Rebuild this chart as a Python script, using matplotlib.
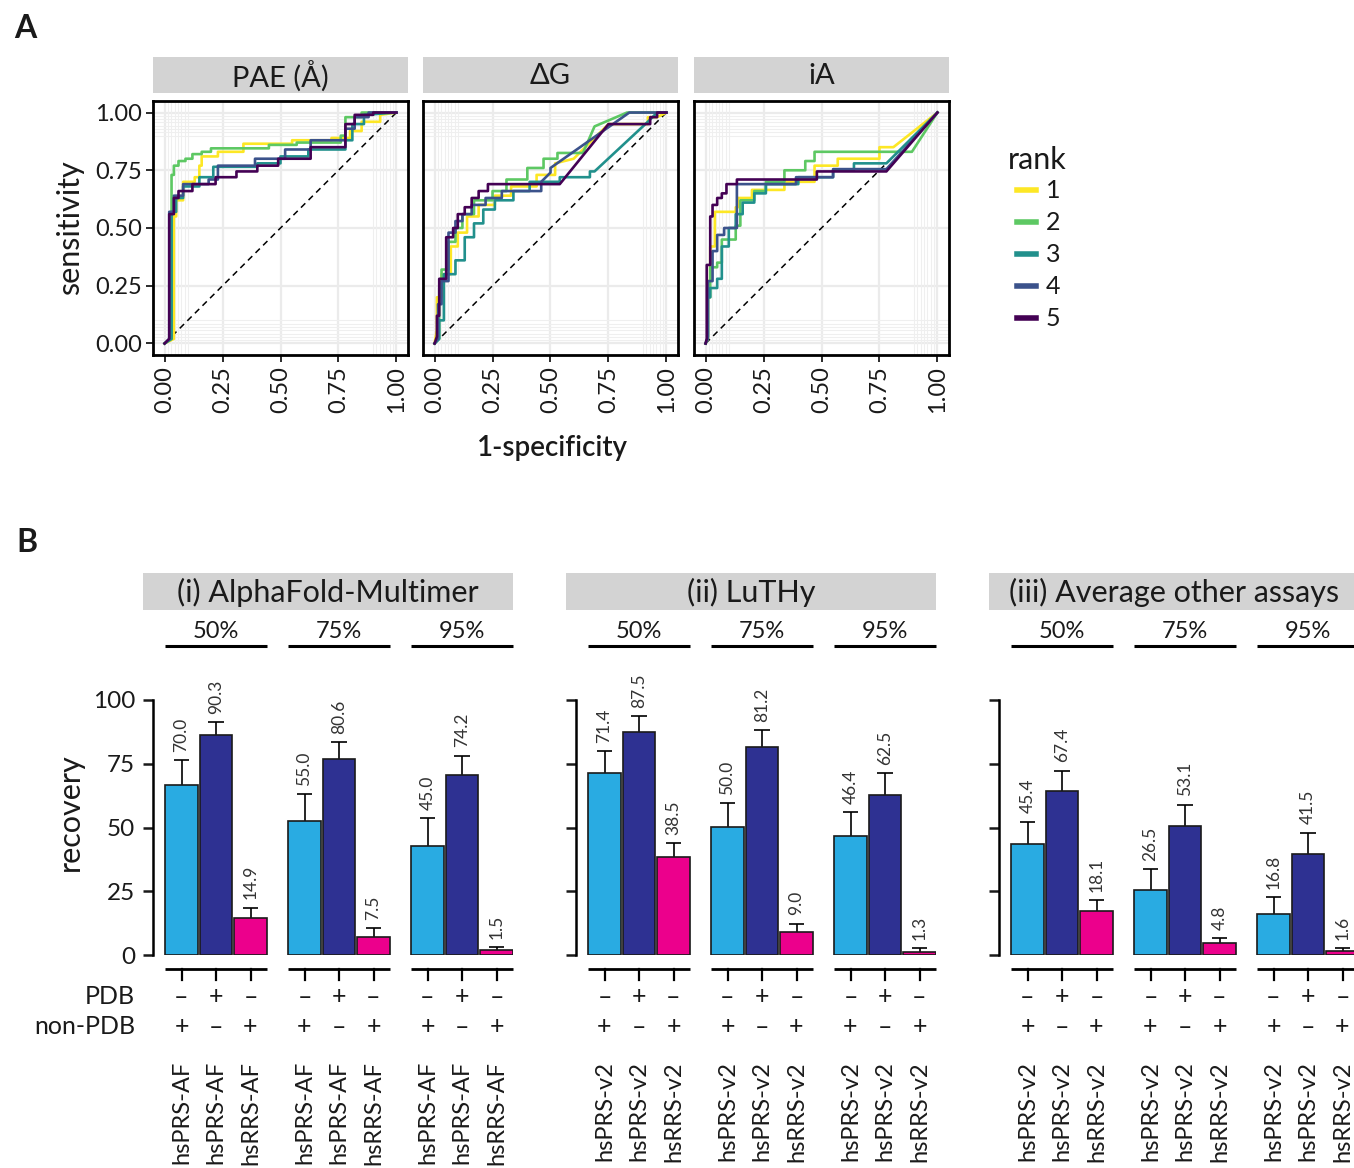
import matplotlib
matplotlib.use('Agg')
import matplotlib.pyplot as plt
from matplotlib.patches import Rectangle
from matplotlib.lines import Line2D

plt.rcParams['font.family'] = ['Lato', 'DejaVu Sans']
plt.rcParams['text.color'] = '#1a1a1a'

# ---------------- data: panel A (ROC curves, vertices) ----------------
RANKS = ['1', '2', '3', '4', '5']
RANK_COLORS = ['#FDE725', '#5DC863', '#21908C', '#3B528B', '#440154']
A_TITLES = ['PAE (Å)', 'ΔG', 'iA']

PAE_FPR = [
    [0, .04, .04, .05, .05, .08, .08, .13, .13, .15, .15, .16, .16, .23, .23, .34, .34, .55, .55, .72, .72, .80, .80, .85, .85, .93, .93, 1],
    [0, .03, .03, .04, .04, .06, .06, .09, .09, .12, .12, .16, .16, .20, .20, .45, .45, .57, .57, .76, .76, .78, .78, .85, .85, 1],
    [0, .03, .03, .05, .05, .08, .08, .15, .15, .21, .21, .40, .40, .50, .50, .62, .62, .78, .78, .81, .81, .86, .86, 1],
    [0, .02, .02, .04, .04, .08, .08, .19, .19, .23, .23, .39, .39, .52, .52, .63, .63, .78, .78, .82, .82, .88, .88, 1],
    [0, .02, .02, .04, .04, .06, .06, .12, .12, .22, .22, .31, .31, .40, .40, .49, .49, .63, .63, .78, .78, .82, .82, .90, .90, 1],
]
PAE_TPR = [
    [0, .02, .55, .55, .62, .62, .70, .70, .72, .72, .77, .77, .81, .81, .83, .83, .865, .865, .88, .88, .89, .89, .92, .92, .96, .96, .99, 1],
    [0, .02, .73, .73, .77, .77, .79, .79, .80, .80, .82, .82, .83, .83, .845, .845, .86, .86, .87, .87, .90, .90, .98, .98, 1, 1],
    [0, .02, .57, .57, .63, .63, .68, .68, .72, .72, .765, .765, .78, .78, .81, .81, .84, .84, .88, .88, .95, .95, .99, 1],
    [0, .02, .57, .57, .64, .64, .69, .69, .71, .71, .77, .77, .80, .80, .84, .84, .88, .88, .93, .93, .98, .98, 1, 1],
    [0, .02, .56, .56, .63, .63, .66, .66, .69, .69, .72, .72, .745, .745, .77, .77, .80, .80, .85, .85, .95, .95, .99, .99, 1, 1],
]

DG_FPR = [
    [0, .01, .01, .03, .03, .07, .07, .10, .10, .14, .14, .19, .19, .26, .26, .33, .33, .44, .44, .52, .52, .60, .75, .92, .92, .96, 1],
    [0, .02, .02, .03, .03, .06, .06, .09, .09, .12, .12, .17, .17, .25, .25, .31, .31, .40, .40, .47, .47, .53, .53, .64, .69, .83, 1],
    [0, .02, .02, .04, .04, .09, .09, .13, .13, .17, .17, .21, .21, .26, .26, .34, .34, .41, .41, .54, .54, .67, .67, .69, .92, .96, 1],
    [0, .015, .015, .03, .03, .06, .06, .09, .09, .12, .12, .16, .16, .22, .22, .29, .29, .34, .34, .46, .46, .50, .50, .84, 1],
    [0, .01, .01, .02, .02, .05, .05, .08, .08, .10, .10, .13, .13, .16, .16, .19, .19, .23, .23, .26, .26, .54, .75, .93, .93, .96, .96, .985, 1],
]
DG_TPR = [
    [0, .06, .20, .20, .30, .30, .42, .42, .48, .48, .55, .55, .60, .60, .64, .64, .68, .68, .73, .73, .78, .80, .95, .95, .98, .98, 1],
    [0, .02, .24, .24, .32, .32, .44, .44, .50, .50, .56, .56, .62, .62, .66, .66, .71, .71, .76, .76, .80, .80, .825, .825, .94, 1, 1],
    [0, .02, .10, .10, .30, .30, .36, .36, .46, .46, .52, .52, .58, .58, .62, .62, .66, .66, .70, .70, .72, .72, .745, .745, .96, 1, 1],
    [0, .02, .17, .17, .27, .27, .48, .48, .53, .53, .56, .56, .60, .60, .63, .63, .66, .66, .66, .66, .70, .74, .76, 1, 1],
    [0, .03, .12, .12, .28, .28, .46, .46, .50, .50, .56, .56, .59, .59, .63, .63, .66, .66, .69, .69, .69, .69, .95, .95, .98, .98, 1, 1, 1],
]

IA_FPR = [
    [0, .01, .01, .02, .02, .04, .04, .13, .13, .14, .14, .20, .20, .34, .34, .47, .47, .57, .57, .75, .75, .81, 1],
    [0, .01, .01, .02, .02, .05, .05, .07, .07, .13, .13, .15, .15, .21, .21, .26, .26, .34, .34, .43, .43, .47, .47, .89, 1],
    [0, .01, .01, .02, .02, .05, .05, .07, .07, .10, .10, .13, .13, .16, .16, .21, .21, .26, .26, .40, .40, .55, .55, .64, .64, .78, 1],
    [0, .01, .01, .03, .03, .05, .05, .08, .08, .135, .135, .39, .39, .55, .55, .78, 1],
    [0, .005, .005, .02, .02, .03, .03, .05, .05, .07, .07, .09, .09, .135, .135, .48, .48, .78, 1],
]
IA_TPR = [
    [0, .02, .27, .27, .42, .42, .57, .57, .59, .59, .63, .63, .665, .665, .70, .70, .77, .77, .80, .80, .85, .85, 1],
    [0, .02, .20, .20, .33, .33, .35, .35, .45, .45, .51, .51, .62, .62, .66, .66, .70, .70, .75, .75, .79, .79, .83, .83, 1],
    [0, .03, .20, .20, .24, .24, .28, .28, .42, .42, .50, .50, .56, .56, .61, .61, .65, .65, .69, .69, .72, .72, .75, .75, .78, .78, 1],
    [0, .02, .27, .27, .40, .40, .47, .47, .50, .50, .69, .69, .72, .72, .755, .755, 1],
    [0, .02, .34, .34, .55, .55, .60, .60, .63, .63, .65, .65, .69, .69, .71, .71, .745, .745, 1],
]

A_FPR = [PAE_FPR, DG_FPR, IA_FPR]
A_TPR = [PAE_TPR, DG_TPR, IA_TPR]
A_TICKS = [0, 0.25, 0.5, 0.75, 1.0]
A_TICKLABELS = ['0.00', '0.25', '0.50', '0.75', '1.00']

# ---------------- data: panel B (recovery bars) ----------------
ASSAYS = ['(i) AlphaFold-Multimer', '(ii) LuTHy', '(iii) Average other assays']
CUTOFFS = ['50%', '75%', '95%']
SAMPLES_AF = ['hsPRS-AF', 'hsPRS-AF', 'hsRRS-AF']
SAMPLES_V2 = ['hsPRS-v2', 'hsPRS-v2', 'hsRRS-v2']
PDB_SIGN = ['–', '+', '–']
NONPDB_SIGN = ['+', '–', '+']
BAR_COLORS = ['#29ABE2', '#2E3192', '#EC008C']

REC_AF = [66.7, 86.3, 14.5, 52.5, 76.9, 7.0, 42.9, 70.7, 2.0]
TOP_AF = [76.5, 91.4, 18.5, 63.1, 83.5, 10.5, 53.7, 78.2, 3.1]
LAB_AF = ['70.0', '90.3', '14.9', '55.0', '80.6', '7.5', '45.0', '74.2', '1.5']

REC_LU = [71.5, 87.6, 38.5, 50.3, 81.6, 9.0, 46.7, 62.7, 1.2]
TOP_LU = [80.0, 93.7, 43.9, 59.6, 88.2, 12.2, 56.1, 71.4, 2.7]
LAB_LU = ['71.4', '87.5', '38.5', '50.0', '81.2', '9.0', '46.4', '62.5', '1.3']

REC_OT = [43.4, 64.3, 17.4, 25.5, 50.7, 4.7, 16.1, 39.6, 1.6]
TOP_OT = [52.3, 72.3, 21.5, 33.7, 59.0, 6.7, 22.7, 48.0, 2.7]
LAB_OT = ['45.4', '67.4', '18.1', '26.5', '53.1', '4.8', '16.8', '41.5', '1.6']

B_REC = [REC_AF, REC_LU, REC_OT]
B_TOP = [TOP_AF, TOP_LU, TOP_OT]
B_LAB = [LAB_AF, LAB_LU, LAB_OT]
B_SAMPLES = [SAMPLES_AF, SAMPLES_V2, SAMPLES_V2]
B_TICKS = [0, 25, 50, 75, 100]

# ---------------- layout helpers (pixel based) ----------------
W, H = 1354, 1168
fig = plt.figure(figsize=(W / 100, H / 100), dpi=100)


def fx(x):
    return x / W


def fy(y):
    return 1 - y / H


def box(x0, y0, x1, y1):
    return [x0 / W, 1 - y1 / H, (x1 - x0) / W, (y1 - y0) / H]


def strip(x0, y0, x1, y1, label, size):
    fig.add_artist(Rectangle((fx(x0), fy(y1)), (x1 - x0) / W, (y1 - y0) / H,
                             transform=fig.transFigure, facecolor='#D3D3D3', edgecolor='none'))
    fig.text(fx((x0 + x1) / 2), fy((y0 + y1) / 2 + 1), label, ha='center', va='center', fontsize=size)


# ---------------- panel A ----------------
fig.text(fx(25), fy(28), 'A', ha='center', va='center', fontsize=23, fontweight='bold')
A_LEFT = [153, 423, 694]
fine = [0.014, 0.029, 0.043, 0.058, 0.072, 0.086, 0.10]
for k in range(3):
    x0 = A_LEFT[k]
    ax = fig.add_axes(box(x0, 101, x0 + 255, 355))
    strip(x0, 57, x0 + 255, 93, A_TITLES[k], 21)
    for v in A_TICKS:
        ax.axvline(v, color='#EBEBEB', lw=1.6, zorder=0)
        ax.axhline(v, color='#EBEBEB', lw=1.6, zorder=0)
    for v in fine:
        for w in (v, 1 - v):
            ax.axvline(w, color='#EFEFEF', lw=0.8, zorder=0)
            ax.axhline(w, color='#EFEFEF', lw=0.8, zorder=0)
    ax.plot([0, 1], [0, 1], color='black', lw=1.1, dashes=(4, 3), zorder=2)
    for r in range(5):
        ax.plot(A_FPR[k][r], A_TPR[k][r], color=RANK_COLORS[r], lw=1.9, zorder=3 + r)
    ax.set_xlim(-0.05, 1.05)
    ax.set_ylim(-0.05, 1.05)
    ax.set_xticks(A_TICKS)
    ax.set_xticklabels(A_TICKLABELS, rotation=90)
    ax.set_yticks(A_TICKS)
    ax.set_yticklabels(A_TICKLABELS)
    ax.tick_params(labelsize=17, length=5, width=1.3, colors='#1a1a1a', pad=3)
    if k > 0:
        ax.tick_params(left=False, labelleft=False)
    for sp in ax.spines.values():
        sp.set_linewidth(2.0)
        sp.set_color('black')

fig.text(fx(70), fy(228), 'sensitivity', rotation=90, ha='center', va='center', fontsize=22)
fig.text(fx(552), fy(448), '1-specificity', ha='center', va='center', fontsize=20, fontweight='semibold')

fig.text(fx(1008), fy(160), 'rank', ha='left', va='center', fontsize=22)
for r in range(5):
    yy = 190 + 32 * r
    fig.add_artist(Line2D([fx(1017), fx(1036)], [fy(yy), fy(yy)], color=RANK_COLORS[r], lw=4,
                          transform=fig.transFigure))
    fig.text(fx(1046), fy(yy), RANKS[r], ha='left', va='center', fontsize=18)

# ---------------- panel B ----------------
fig.text(fx(27), fy(543), 'B', ha='center', va='center', fontsize=23, fontweight='bold')
B_LEFT = [143, 566, 989]
PX_PER_UNIT = 2.55   # recovery units -> pixels
BAR_PITCH = 34.5     # pixels between bar centres
GROUP_PITCH = 123.0  # pixels between cutoff groups


def yv(py):
    return (955 - py) / PX_PER_UNIT


for p in range(3):
    s = B_LEFT[p]
    ax = fig.add_axes(box(s + 10, 700, s + 370, 955))
    strip(s, 573, s + 370, 610, ASSAYS[p], 22)
    first = s + 38.5
    ax.set_xlim((s + 10 - first) / BAR_PITCH, (s + 370 - first) / BAR_PITCH)
    ax.set_ylim(0, 100)
    gstep = GROUP_PITCH / BAR_PITCH
    for g in range(3):
        xs = [g * gstep + b for b in range(3)]
        vals = B_REC[p][3 * g:3 * g + 3]
        tops = B_TOP[p][3 * g:3 * g + 3]
        labs = B_LAB[p][3 * g:3 * g + 3]
        ax.vlines(xs, vals, tops, color='black', lw=1.2, zorder=1)
        ax.hlines(tops, [x - 0.23 for x in xs], [x + 0.23 for x in xs], color='black', lw=1.2, zorder=1)
        ax.bar(xs, vals, width=0.93, color=BAR_COLORS, edgecolor='#1a1a1a', linewidth=1.2, zorder=2)
        for x, t, lab in zip(xs, tops, labs):
            ax.text(x, t + 3.3, lab, rotation=90, ha='center', va='bottom', fontsize=12.5, color='#333333')
        lo, hi = xs[0] - 0.465, xs[2] + 0.465
        # cutoff header with underline
        ax.plot([lo, hi], [yv(646), yv(646)], color='black', lw=2.2, clip_on=False, solid_capstyle='butt')
        ax.text((lo + hi) / 2, yv(632), CUTOFFS[g], ha='center', va='center', fontsize=17, clip_on=False)
        # bracket under the bars
        ax.plot([lo, hi], [yv(969), yv(969)], color='black', lw=2.0, clip_on=False, solid_capstyle='butt')
        for x, pdb, non, smp in zip(xs, PDB_SIGN, NONPDB_SIGN, B_SAMPLES[p]):
            ax.plot([x, x], [yv(969), yv(980)], color='black', lw=1.6, clip_on=False)
            ax.text(x, yv(997), pdb, ha='center', va='center', fontsize=18, clip_on=False)
            ax.text(x, yv(1027), non, ha='center', va='center', fontsize=18, clip_on=False)
            ax.text(x, yv(1061), smp, rotation=90, ha='center', va='top', fontsize=17, clip_on=False)
    for side in ('top', 'right', 'bottom'):
        ax.spines[side].set_visible(False)
    ax.spines['left'].set_linewidth(1.8)
    ax.spines['left'].set_bounds(0, 100)
    ax.set_xticks([])
    ax.set_yticks(B_TICKS)
    ax.tick_params(axis='y', length=7, width=1.8, labelsize=17.5, colors='#1a1a1a', pad=6)
    if p > 0:
        ax.set_yticklabels([])
    ax.patch.set_visible(False)

fig.text(fx(135), fy(997), 'PDB', ha='right', va='center', fontsize=18)
fig.text(fx(135), fy(1027), 'non-PDB', ha='right', va='center', fontsize=18)
fig.text(fx(70), fy(812), 'recovery', rotation=90, ha='center', va='center', fontsize=22)

fig.savefig('out.png', dpi=100)
